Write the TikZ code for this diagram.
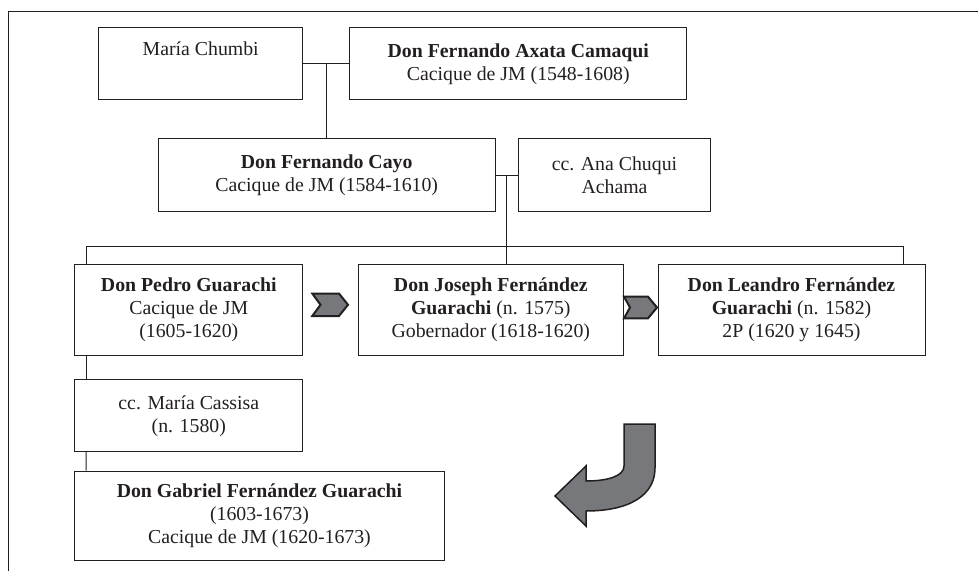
\documentclass[tikz,border=0pt]{standalone}
\usepackage{fontspec}
\setmainfont{Liberation Serif}
\usetikzlibrary{calc}
\definecolor{ink}{HTML}{231F20}
\definecolor{arrowgray}{HTML}{77787B}
\begin{document}
\begin{tikzpicture}[x=1bp,y=-1bp,
  box/.style={draw=ink, line width=1bp, inner sep=0pt, align=center, text=ink,
    font=\fontsize{19.8bp}{23bp}\selectfont},
  link/.style={draw=ink, line width=1bp},
  chev/.style={draw=ink, fill=arrowgray, line width=2bp, line join=miter}]
\useasboundingbox (0,0) rectangle (978,571);
% frame
\draw[link] (978,12) -- (8,12) -- (8,571);

% boxes
\node[box, minimum width=204bp, minimum height=72bp] (mc) at (200.7,64) {María Chumbi\\\strut};
\node[box, minimum width=336.7bp, minimum height=72bp] (ax) at (518.3,64)
  {\textbf{Don Fernando Axata Camaqui}\\Cacique de JM (1548-1608)};
\node[box, minimum width=336.7bp, minimum height=72.7bp] (cy) at (326.7,175.3)
  {\textbf{Don Fernando Cayo}\\Cacique de JM (1584-1610)};
\node[box, minimum width=192.3bp, minimum height=72.7bp] (an) at (614.5,175.3)
  {cc. Ana Chuqui\\Achama};
\node[box, minimum width=228.3bp, minimum height=90bp] (pe) at (188.8,310)
  {\textbf{Don Pedro Guarachi}\\Cacique de JM\\(1605-1620)};
\node[box, minimum width=265bp, minimum height=90bp] (jo) at (490.8,310)
  {\textbf{Don Joseph Fernández}\\\textbf{Guarachi} (n. 1575)\\Gobernador (1618-1620)};
\node[box, minimum width=267bp, minimum height=90bp] (le) at (791.5,310)
  {\textbf{Don Leandro Fernández}\\\textbf{Guarachi} (n. 1582)\\2P (1620 y 1645)};
\node[box, minimum width=228.3bp, minimum height=71.7bp] (ca) at (188.8,415.8)
  {cc. María Cassisa\\(n. 1580)};
\node[box, minimum width=369.7bp, minimum height=89bp] (ga) at (259.5,515.5)
  {\textbf{Don Gabriel Fernández Guarachi}\\(1603-1673)\\Cacique de JM (1620-1673)};

% connectors
\draw[link] (mc.east) -- (ax.west);
\coordinate (m1) at ($(mc.east)!0.5!(ax.west)$);
\draw[link] (m1) -- (m1 |- cy.north);
\draw[link] (cy.east) -- (an.west);
\coordinate (m2) at ($(cy.east)!0.5!(an.west)$);
\draw[link] (m2) -- (m2 |- jo.north);
\draw[link] ([xshift=12bp]pe.north west) -- ++(0,-18.3) -| ([xshift=-22.3bp]le.north east);
\draw[link] ([xshift=12bp]pe.south west) -- ([xshift=12bp]ca.north west);
\draw[link] ([xshift=12bp]ca.south west) -- ([xshift=12bp]ga.north west);

% chevrons
\path[chev] (312.3,293.5) -- (339,293.5) -- (348,304.8) -- (339,316) -- (312.3,316) -- (320.5,304.8) -- cycle;
\path[chev] (624,296.7) -- (648,296.7) -- (657,307.5) -- (648,318.3) -- (624,318.3) -- (630,307.5) -- cycle;

% curved arrow
\path[chev, line width=1.5bp] (624,424) -- (655,424) -- (655,468)
  .. controls (655,495) and (630,511) .. (586,511) -- (586,526) -- (555,496)
  -- (586,466) -- (586,481) .. controls (608,481) and (624,476) .. (624,466) -- cycle;
\end{tikzpicture}
\end{document}
